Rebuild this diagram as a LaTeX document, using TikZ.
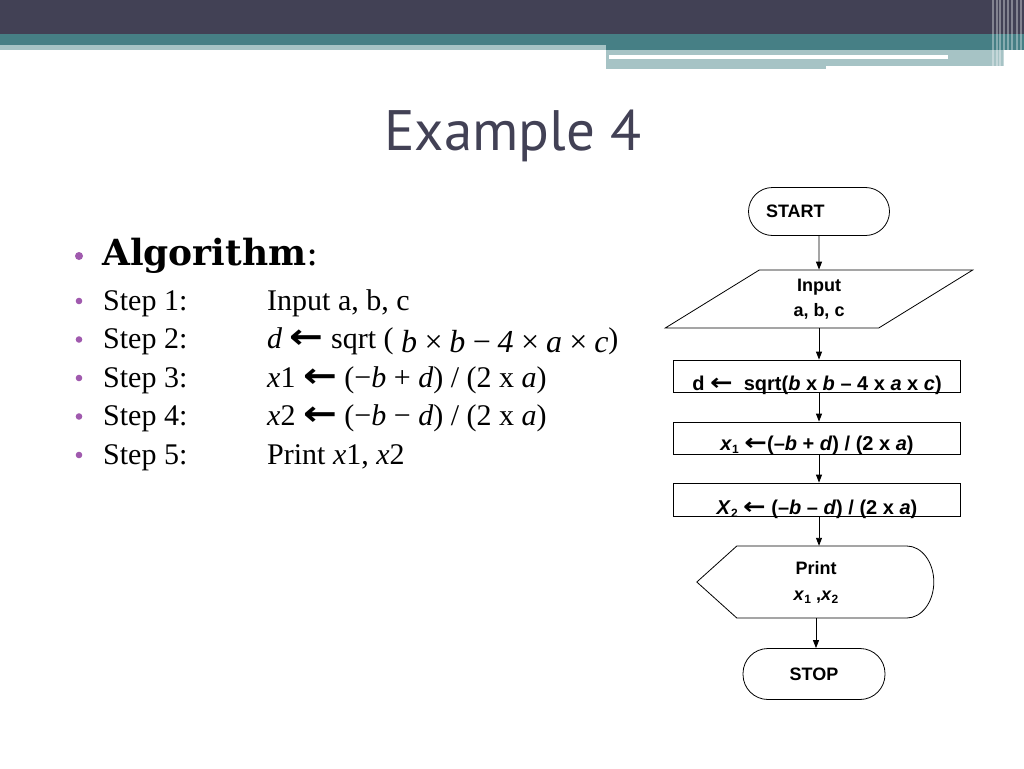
\documentclass[tikz,border=0pt]{standalone}
\usepackage{fontspec}
\setmainfont{Liberation Serif}
\setsansfont{Liberation Sans}
\newfontfamily\titlefont{PT Sans}
\newfontfamily\headfont{DejaVu Serif}
\newfontfamily\symfont{DejaVu Sans}
\usetikzlibrary{shapes.geometric,arrows.meta}

\definecolor{slate}{HTML}{424155}
\definecolor{bandteal}{HTML}{467F85}
\definecolor{bandlight}{HTML}{A6C3C5}
\definecolor{bulletpurple}{HTML}{A05AAE}

\newcommand{\lowidx}[1]{\raisebox{-3pt}{\fontsize{12}{12}\selectfont #1}}
\newcommand{\getsarrow}{\scalebox{1.35}[1.15]{\symfont\bfseries ←}}

\begin{document}
\begin{tikzpicture}[x=1pt, y=-1pt, >={Triangle[length=8pt,width=6pt]},
    every node/.style={inner sep=0pt},
    flow/.style={->, line width=0.9pt},
    terminal/.style={draw, line width=0.8pt, rounded corners=24pt, minimum height=48pt,
      font=\sffamily\bfseries\fontsize{18}{18}\selectfont},
    iobox/.style={draw, line width=0.8pt, trapezium, trapezium left angle=45, trapezium right angle=135,
      trapezium stretches=true, minimum width=308pt, minimum height=58pt, align=center,
      font=\sffamily\bfseries\fontsize{18}{25}\selectfont},
    procbox/.style={draw, line width=0.8pt, minimum width=287pt, minimum height=32pt, inner ysep=0pt,
      font=\sffamily\bfseries\fontsize{20}{20}\selectfont},
    steptext/.style={anchor=base west, font=\fontsize{30}{30}\selectfont}]

  % background and header bands
  \useasboundingbox (0,0) rectangle (1024,768);
  \fill[white] (0,0) rectangle (1024,768);
  \fill[slate] (0,0) rectangle (1024,34);
  \fill[bandteal] (0,34) rectangle (1024,45);
  \fill[bandteal] (606,45) rectangle (1024,50);
  \fill[bandlight] (0,45) rectangle (606,50);
  \fill[bandlight] (606,50) rectangle (1004,66);
  \fill[bandlight] (606,66) rectangle (826,69);
  \fill[white] (609,55) rectangle (948,59);
  \foreach \xs in {993,997,1000,1004,1008,1012,1017,1021}
    \draw[white, opacity=0.35, line width=1.2pt] (\xs,0) -- (\xs,69);

  % Title
  \node[anchor=base, text=slate, font=\titlefont\fontsize{57}{57}\selectfont] (title) at (513,150) {Example 4};

  % Algorithm
  \fill[bulletpurple] (79,256) circle (4);
  \node[anchor=base west, font=\headfont\bfseries\fontsize{36}{36}\selectfont] (algo) at (102,265) {Algorithm\textmd{:}};

  \foreach \yb in {310,348.5,387,425.5,464}
    \fill[bulletpurple] (79,\yb-9) circle (3.3);

  \node[steptext] (step1) at (103,310) {Step 1:};
  \node[steptext] (step2) at (103,348.5) {Step 2:};
  \node[steptext] (step3) at (103,387) {Step 3:};
  \node[steptext] (step4) at (103,425.5) {Step 4:};
  \node[steptext] (step5) at (103,464) {Step 5:};

  \node[steptext] (do1) at (267,310) {Input a, b, c};
  \node[steptext] (do2) at (267,348.5) {\textit{d} \getsarrow\ sqrt (\ \raisebox{-4pt}{\fontsize{32}{32}\selectfont\itshape b\,×\,b\,−\,4\,×\,a\,×\,c})};
  \node[steptext] (do3) at (267,387) {\textit{x}1 \getsarrow\ (−\textit{b} + \textit{d}) / (2 x \textit{a})};
  \node[steptext] (do4) at (267,425.5) {\textit{x}2 \getsarrow\ (−\textit{b} − \textit{d}) / (2 x \textit{a})};
  \node[steptext] (do5) at (267,464) {Print \textit{x}1, \textit{x}2};

  % Flowchart
  \node[terminal, minimum width=141pt, text width=106pt, inner xsep=17pt, align=left] (start) at (819,211.5) {START};
  \node[iobox] (input) at (819,299) {Input\\a, b, c};
  \node[procbox, text height=30pt, text depth=2pt] (dbox) at (817,376) {d \getsarrow\ \ sqrt(\textit{b} x \textit{b} – 4 x \textit{a} x \textit{c})};
  \node[procbox, text height=28pt, text depth=4pt] (xone) at (817,438) {\textit{x}\lowidx{1} \getsarrow(–\textit{b} + \textit{d}) / (2 x \textit{a})};
  \node[procbox, text height=31pt, text depth=2pt] (xtwo) at (817,499.5) {\textit{X}\lowidx{2} \getsarrow\ (–\textit{b} – \textit{d}) / (2 x \textit{a})};
  \node[minimum width=238pt, minimum height=72pt, align=center,
        font=\sffamily\bfseries\fontsize{18}{26}\selectfont] (print) at (816,582) {Print\\\textit{x}\lowidx{1} ,\textit{x}\lowidx{2}};
  \draw[line width=0.8pt] (print.west) -- ++(40,-36) -- ++(170,0)
    arc[start angle=-90, end angle=90, x radius=27, y radius=36] -- ++(-170,0) -- cycle;
  \node[terminal, minimum width=142pt, minimum height=51pt, rounded corners=25pt] (stop) at (814,674) {STOP};

  \draw[flow] (start.south) -- (input.north);
  \draw[flow] (input.south) -- (input.south |- dbox.north);
  \draw[flow] (input.south |- dbox.south) -- (input.south |- xone.north);
  \draw[flow] (input.south |- xone.south) -- (input.south |- xtwo.north);
  \draw[flow] (input.south |- xtwo.south) -- (input.south |- print.north);
  \draw[flow] (print.south) -- (print.south |- stop.north);
\end{tikzpicture}
\end{document}
